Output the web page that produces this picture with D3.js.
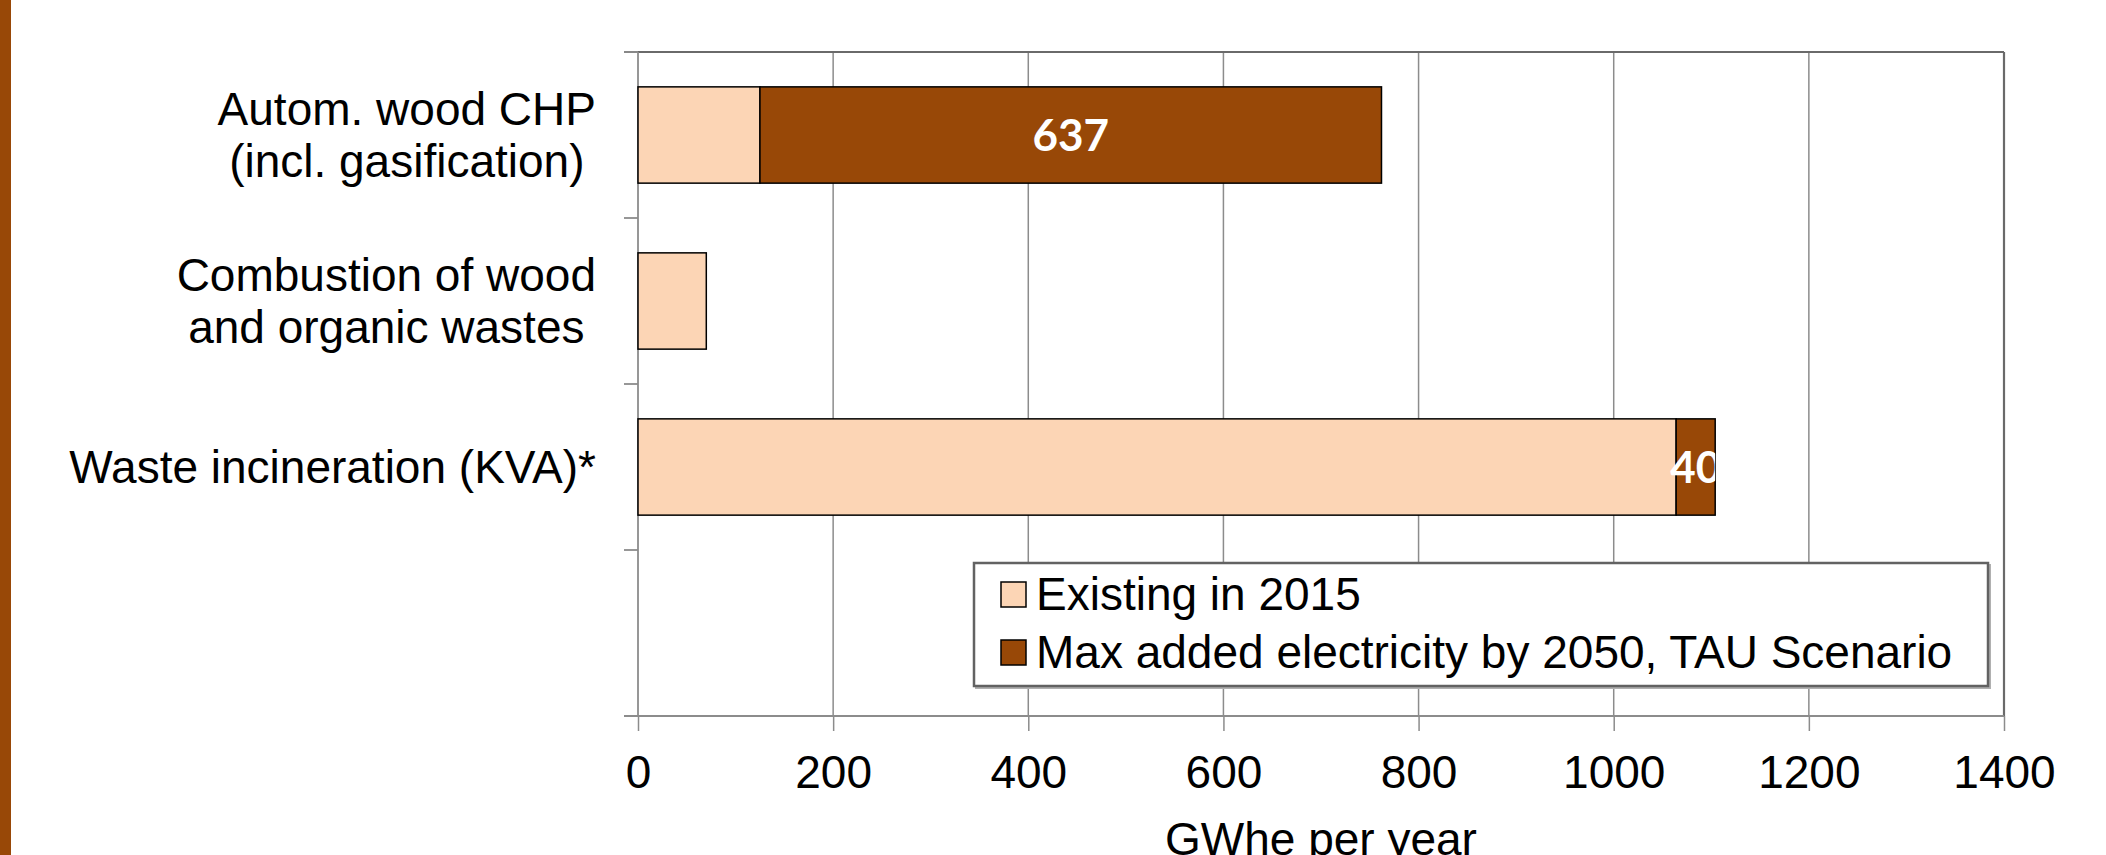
<!DOCTYPE html>
<html lang="en">
<head>
    <meta charset="UTF-8">
    <title>Biomass electricity</title>
    <script src="https://d3js.org/d3.v7.min.js"></script>
</head>
<style>
    body {
        margin: 0;
        background: #fff;
    }

    text {
        font-family: "Liberation Sans", Arial, sans-serif;
    }
</style>
<body>
    <div id="chart"></div>
    <script>
        // chart values
        const categories = [
            ["Autom. wood CHP", "(incl. gasification)"],
            ["Combustion of wood", "and organic wastes"],
            ["Waste incineration (KVA)*"]
        ];
        const existing2015 = [125, 70, 1064];
        const added2050 = [637, 0, 40];
        const xTicks = [0, 200, 400, 600, 800, 1000, 1200, 1400];
        const seriesNames = ["Existing in 2015", "Max added electricity by 2050, TAU Scenario"];
        const axisTitle = "GWhe per year";

        const W = 2106, H = 855;
        const plot = { left: 638, right: 2004, top: 52, bottom: 716 };
        const lightFill = "#fcd5b5", darkFill = "#984807";

        const svg = d3.select("#chart")
            .append("svg")
            .attr("width", W)
            .attr("height", H);

        // brown strip on the left edge
        svg.append("rect")
            .attr("x", 0).attr("y", 0)
            .attr("width", 11).attr("height", H)
            .attr("fill", darkFill);

        const x = d3.scaleLinear()
            .domain([0, 1400])
            .range([plot.left, plot.right]);

        // 4 slots, the last one is left empty (legend sits there)
        const slots = d3.range(categories.length + 1);
        const slot = d3.scaleBand()
            .domain(slots)
            .range([plot.top, plot.bottom]);
        const step = slot.step();
        const barH = step * 0.58;

        // gridlines
        svg.append("g")
            .selectAll("line")
            .data(xTicks.slice(1))
            .join("line")
            .attr("x1", d => x(d)).attr("x2", d => x(d))
            .attr("y1", plot.top).attr("y2", plot.bottom)
            .attr("stroke", d => d === 1400 ? "#6a6a6a" : "#8c8c8c")
            .attr("stroke-width", d => d === 1400 ? 2.2 : 1.5);

        // top border
        svg.append("line")
            .attr("x1", plot.left - 14).attr("x2", plot.right)
            .attr("y1", plot.top).attr("y2", plot.top)
            .attr("stroke", "#6a6a6a")
            .attr("stroke-width", 2.2);

        // y axis + ticks at slot boundaries
        svg.append("line")
            .attr("x1", plot.left).attr("x2", plot.left)
            .attr("y1", plot.top).attr("y2", plot.bottom)
            .attr("stroke", "#8c8c8c").attr("stroke-width", 1.8);
        svg.append("g")
            .selectAll("line")
            .data(d3.range(slots.length + 1))
            .join("line")
            .attr("x1", plot.left - 14).attr("x2", plot.left)
            .attr("y1", d => plot.top + d * step).attr("y2", d => plot.top + d * step)
            .attr("stroke", "#8c8c8c").attr("stroke-width", 1.8);

        // x axis
        const xAxis = svg.append("g")
            .attr("transform", "translate(0," + plot.bottom + ")")
            .call(d3.axisBottom(x).tickValues(xTicks).tickFormat(d3.format("d")).tickSize(15).tickSizeOuter(0));
        xAxis.select(".domain")
            .attr("d", "M" + (plot.left - 14) + ",0H" + plot.right)
            .attr("stroke", "#8c8c8c").attr("stroke-width", 1.8);
        xAxis.selectAll(".tick line").attr("stroke", "#8c8c8c").attr("stroke-width", 1.5);
        xAxis.selectAll(".tick text")
            .attr("y", 72).attr("dy", 0)
            .attr("fill", "#000")
            .style("font-family", "'Liberation Sans', Arial, sans-serif")
            .style("font-size", "46px");

        svg.append("text")
            .attr("x", (plot.left + plot.right) / 2)
            .attr("y", 855)
            .attr("text-anchor", "middle")
            .style("font-size", "46px")
            .text(axisTitle);

        // stacked bars
        const rows = categories.map((c, i) => ({
            i: i, existing: existing2015[i], added: added2050[i]
        }));
        const barY = i => slot(i) + (step - barH) / 2;

        const defs = svg.append("defs");

        rows.forEach(function (d) {
            const g = svg.append("g");
            g.append("rect")
                .attr("x", x(0)).attr("y", barY(d.i))
                .attr("width", x(d.existing) - x(0)).attr("height", barH)
                .attr("fill", lightFill).attr("stroke", "#000").attr("stroke-width", 1.5);
            if (d.added > 0) {
                g.append("rect")
                    .attr("x", x(d.existing)).attr("y", barY(d.i))
                    .attr("width", x(d.existing + d.added) - x(d.existing)).attr("height", barH)
                    .attr("fill", darkFill).attr("stroke", "#000").attr("stroke-width", 1.5);

                defs.append("clipPath").attr("id", "clip" + d.i)
                    .append("rect")
                    .attr("x", x(0)).attr("y", barY(d.i))
                    .attr("width", x(d.existing + d.added) - x(0)).attr("height", barH);

                g.append("text")
                    .attr("clip-path", "url(#clip" + d.i + ")")
                    .attr("x", (x(d.existing) + x(d.existing + d.added)) / 2)
                    .attr("y", barY(d.i) + barH / 2 + 16)
                    .attr("text-anchor", "middle")
                    .attr("fill", "#fff")
                    .style("font-family", "Lato, 'Open Sans', sans-serif")
                    .style("font-weight", "bold")
                    .style("font-size", "44px")
                    .text(d.added);
            }
        });

        // category labels: lines centered inside a right-aligned block
        const labelRight = 596, lineH = 52;
        categories.forEach(function (lines, i) {
            const cy = slot(i) + step / 2;
            const t = svg.append("g");
            const texts = lines.map(function (s, k) {
                return t.append("text")
                    .attr("y", cy + 16 + (k - (lines.length - 1) / 2) * lineH)
                    .attr("text-anchor", "middle")
                    .style("font-size", "46px")
                    .text(s);
            });
            const maxW = d3.max(texts, el => el.node().getComputedTextLength());
            texts.forEach(el => el.attr("x", labelRight - maxW / 2));
        });

        // legend
        const lg = svg.append("g").attr("transform", "translate(974,563)");
        lg.append("rect")
            .attr("x", 2).attr("y", 2).attr("width", 1014).attr("height", 123)
            .attr("fill", "none").attr("stroke", "#b0b0b0").attr("stroke-width", 2);
        lg.append("rect")
            .attr("width", 1014).attr("height", 123)
            .attr("fill", "#fff").attr("stroke", "#626262").attr("stroke-width", 2.5);
        seriesNames.forEach(function (name, k) {
            lg.append("rect")
                .attr("x", 27).attr("y", 19 + k * 58)
                .attr("width", 25).attr("height", 25)
                .attr("fill", k === 0 ? lightFill : darkFill)
                .attr("stroke", "#000").attr("stroke-width", 1.5);
            lg.append("text")
                .attr("x", 62).attr("y", 47 + k * 58)
                .style("font-size", "46px")
                .text(name);
        });
    </script>
</body>
</html>
